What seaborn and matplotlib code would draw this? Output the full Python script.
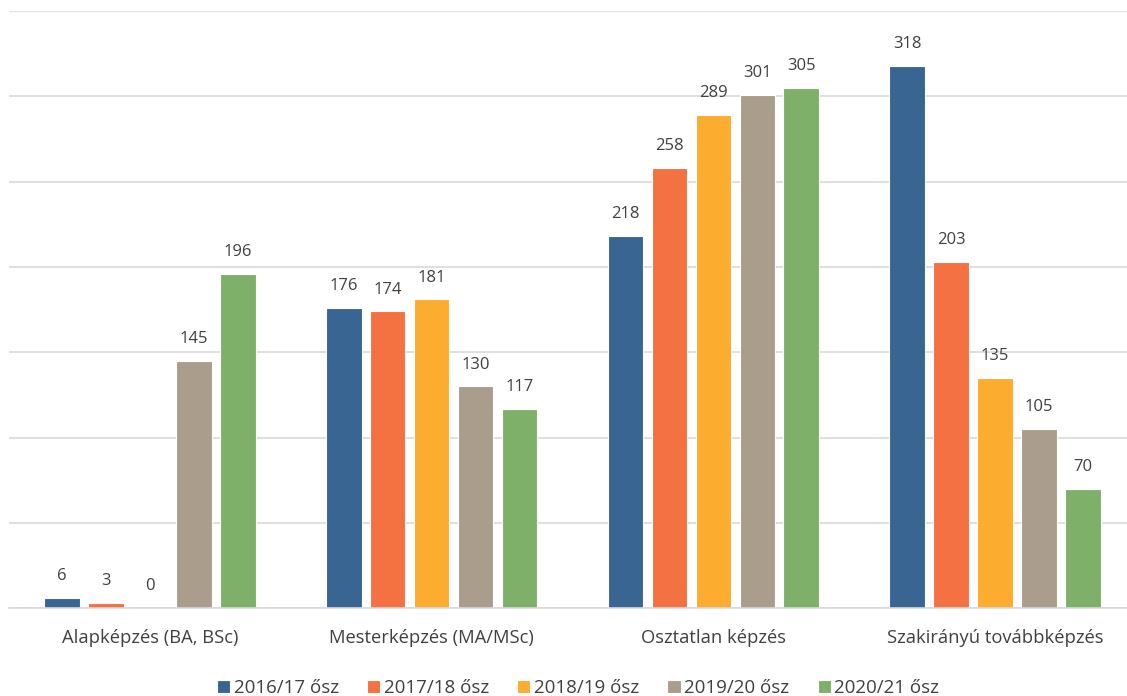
import pandas as pd
import matplotlib.pyplot as plt
import seaborn as sns

categories = ['Alapképzés (BA, BSc)', 'Mesterképzés (MA/MSc)', 'Osztatlan képzés', 'Szakirányú továbbképzés']
years = ['2016/17 ősz', '2017/18 ősz', '2018/19 ősz', '2019/20 ősz', '2020/21 ősz']
values = {
    '2016/17 ősz': [6, 176, 218, 318],
    '2017/18 ősz': [3, 174, 258, 203],
    '2018/19 ősz': [0, 181, 289, 135],
    '2019/20 ősz': [145, 130, 301, 105],
    '2020/21 ősz': [196, 117, 305, 70],
}
colors = ['#386592', '#F47142', '#FCAC2E', '#AA9D8C', '#7FB06A']

rows = []
for y in years:
    for c, v in zip(categories, values[y]):
        rows.append({'kepzes': c, 'ev': y, 'letszam': v})
df = pd.DataFrame(rows)

sns.set_theme(style='white')
plt.rcParams['font.family'] = ['Open Sans', 'DejaVu Sans']
text_color = '#404040'

fig = plt.figure(figsize=(11.27, 6.96), dpi=100)
ax = fig.add_axes([0.008, 0.126, 1.0, 0.858])

sns.barplot(data=df, x='kepzes', y='letszam', hue='ev', palette=colors, saturation=1,
            width=0.78, gap=0.19, ax=ax, edgecolor='white', linewidth=0.8)

for cont in ax.containers:
    ax.bar_label(cont, padding=10, fontsize=12, color=text_color)

ax.set_ylim(0, 350)
ax.set_yticks(range(0, 351, 50))
ax.yaxis.grid(True, color='#D9D9D9', linewidth=1.2)
ax.set_axisbelow(True)
ax.set_yticklabels([])
ax.tick_params(axis='y', length=0)
ax.tick_params(axis='x', length=0, labelsize=13.2, labelcolor=text_color, pad=15)
ax.set_xlabel('')
ax.set_ylabel('')
ax.set_xlim(-0.5, 3.5)
for s in ['top', 'right', 'left']:
    ax.spines[s].set_visible(False)
ax.spines['bottom'].set_color('#D9D9D9')
ax.spines['bottom'].set_linewidth(1.2)

ax.legend(loc='upper center', bbox_to_anchor=(0.505, -0.09), ncol=5, frameon=False,
          fontsize=13.5, labelcolor=text_color, handlelength=0.7, handleheight=0.7,
          handletextpad=0.2, columnspacing=1.5)

fig.savefig('out.png', dpi=100)
